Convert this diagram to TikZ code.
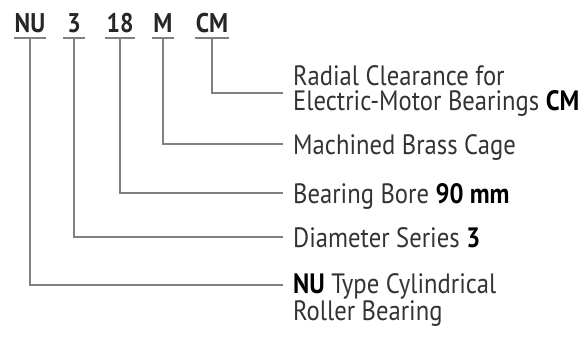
\documentclass[tikz,border=0pt]{standalone}
\usepackage{fontspec}
\setmainfont[FakeStretch=0.88]{PT Sans}
\usetikzlibrary{positioning}

\begin{document}
\begin{tikzpicture}[x=1pt,y=-1pt,
  code/.style={font=\fontsize{27}{27}\selectfont\bfseries, text=black!85, anchor=base, inner xsep=1pt, inner ysep=6pt, text depth=0pt, minimum width=22pt},
  lbl/.style={font=\fontsize{28}{25}\selectfont, text=black!80, anchor=base west, inner xsep=10pt, inner ysep=0pt, align=left},
  lead/.style={draw=black!50, line width=1.5pt}]
\useasboundingbox (0,0) rectangle (588,340);

% designation
\node[code] (nu) at (30,32) {NU};
\node[code] (ser) at (74,32) {3};
\node[code] (bore) at (120,32) {18};
\node[code] (cage) at (163,32) {M};
\node[code] (cm) at (212,32) {CM};

% meanings (base = last line)
\node[lbl] (cmlbl) at (283,110) {Radial Clearance for\\Electric-Motor Bearings \textbf{\color{black}CM}};
\node[lbl] (cagelbl) at (283,154) {Machined Brass Cage};
\node[lbl] (borelbl) at (283,203) {Bearing Bore \textbf{\color{black}90 mm}};
\node[lbl] (serlbl) at (283,247) {Diameter Series \textbf{\color{black}3}};
\node[lbl] (nulbl) at (283,320) {\textbf{\color{black}NU} Type Cylindrical\\Roller Bearing};

% leaders
\foreach \c in {nu,ser,bore,cage,cm}
  \draw[lead] (\c.south west) -- (\c.south east);
\draw[lead] (cm.south) |- ([yshift=17pt]cmlbl.base west);
\draw[lead] (cage.south) |- ([yshift=10pt]cagelbl.base west);
\draw[lead] (bore.south) |- ([yshift=10pt]borelbl.base west);
\draw[lead] (ser.south) |- ([yshift=10pt]serlbl.base west);
\draw[lead] (nu.south) |- ([yshift=35pt]nulbl.base west);
\end{tikzpicture}
\end{document}
